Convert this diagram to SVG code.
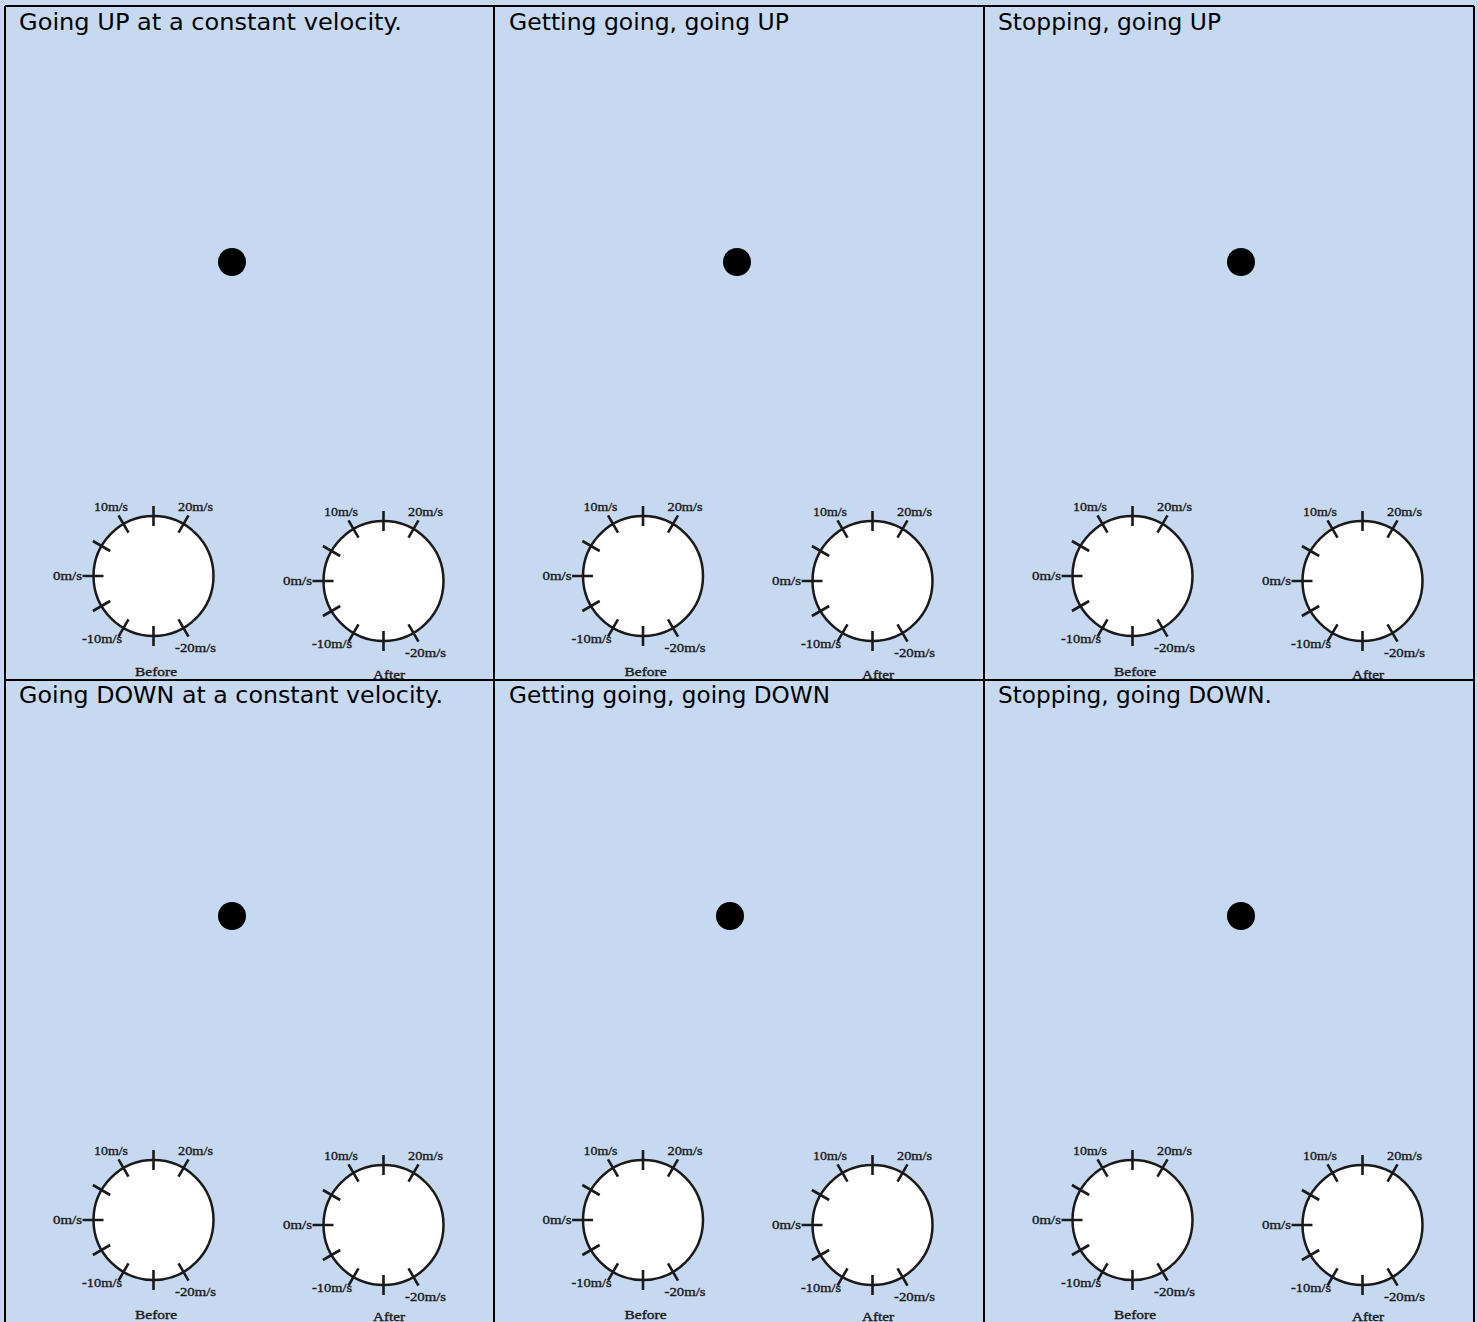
<svg xmlns="http://www.w3.org/2000/svg" xmlns:xlink="http://www.w3.org/1999/xlink" width="1478" height="1322" viewBox="0 0 1478 1322">
<style>
.bg{fill:#c6d9f1}
.title{font-family:"DejaVu Sans","Liberation Sans",sans-serif;font-size:23.5px;fill:#000}
.lbl{font-family:"Liberation Serif",serif;font-size:12px;fill:#1a1a1a;stroke:#1a1a1a;stroke-width:0.35}
.face{fill:#fff;stroke:#1a1a1a;stroke-width:2.5}
.tick{stroke:#1a1a1a;stroke-width:2.6;fill:none}
.dot{fill:#000}
.grid{stroke:#000;stroke-width:2;fill:none}
</style>
<defs>
<g id="dial">
<circle class="face" cx="0" cy="0" r="60"/>
<path class="tick" d="M25,-43.3L35,-60.6M0,-50L0,-70M-25,-43.3L-35,-60.6M-43.3,-25L-60.6,-35M-50,0L-71,0M-43.3,25L-60.6,35M-25,43.3L-35,60.6M0,50L0,70M25,43.3L35,60.6"/>
<text class="lbl" x="-59.5" y="-65" textLength="34" lengthAdjust="spacingAndGlyphs">10m/s</text>
<text class="lbl" x="24.5" y="-65" textLength="35" lengthAdjust="spacingAndGlyphs">20m/s</text>
<text class="lbl" x="-100.5" y="3.5" textLength="29" lengthAdjust="spacingAndGlyphs">0m/s</text>
<text class="lbl" x="-71.5" y="67" textLength="40" lengthAdjust="spacingAndGlyphs">-10m/s</text>
<text class="lbl" x="21.5" y="75.5" textLength="41" lengthAdjust="spacingAndGlyphs">-20m/s</text>
</g>
</defs>
<rect class="bg" x="0" y="0" width="1478" height="1322"/>

<g id="panel-r1c1">
<text class="title" x="19" y="30" textLength="383" lengthAdjust="spacingAndGlyphs">Going UP at a constant velocity.</text>
<circle class="dot" cx="232" cy="262" r="14"/>
<g id="r1c1-before"><use xlink:href="#dial" transform="translate(153.5,576)"/><text class="lbl" x="135" y="676" textLength="42" lengthAdjust="spacingAndGlyphs">Before</text></g>
<g id="r1c1-after"><use xlink:href="#dial" transform="translate(383.5,581)"/><text class="lbl" x="373" y="679" textLength="32" lengthAdjust="spacingAndGlyphs">After</text></g>
</g>
<g id="panel-r1c2">
<text class="title" x="509" y="30" textLength="280" lengthAdjust="spacingAndGlyphs">Getting going, going UP</text>
<circle class="dot" cx="737" cy="262" r="14"/>
<g id="r1c2-before"><use xlink:href="#dial" transform="translate(643,576)"/><text class="lbl" x="624.5" y="676" textLength="42" lengthAdjust="spacingAndGlyphs">Before</text></g>
<g id="r1c2-after"><use xlink:href="#dial" transform="translate(872.5,581)"/><text class="lbl" x="862" y="679" textLength="32" lengthAdjust="spacingAndGlyphs">After</text></g>
</g>
<g id="panel-r1c3">
<text class="title" x="998" y="30" textLength="223" lengthAdjust="spacingAndGlyphs">Stopping, going UP</text>
<circle class="dot" cx="1241" cy="262" r="14"/>
<g id="r1c3-before"><use xlink:href="#dial" transform="translate(1132.5,576)"/><text class="lbl" x="1114" y="676" textLength="42" lengthAdjust="spacingAndGlyphs">Before</text></g>
<g id="r1c3-after"><use xlink:href="#dial" transform="translate(1362.5,581)"/><text class="lbl" x="1352" y="679" textLength="32" lengthAdjust="spacingAndGlyphs">After</text></g>
</g>

<rect class="bg" x="0" y="680" width="1478" height="642"/>

<g id="panel-r2c1">
<text class="title" x="19" y="703" textLength="424" lengthAdjust="spacingAndGlyphs">Going DOWN at a constant velocity.</text>
<circle class="dot" cx="232" cy="916" r="14"/>
<g id="r2c1-before"><use xlink:href="#dial" transform="translate(153.5,1220)"/><text class="lbl" x="135" y="1319" textLength="42" lengthAdjust="spacingAndGlyphs">Before</text></g>
<g id="r2c1-after"><use xlink:href="#dial" transform="translate(383.5,1225)"/><text class="lbl" x="373" y="1321" textLength="32" lengthAdjust="spacingAndGlyphs">After</text></g>
</g>
<g id="panel-r2c2">
<text class="title" x="509" y="703" textLength="321" lengthAdjust="spacingAndGlyphs">Getting going, going DOWN</text>
<circle class="dot" cx="730" cy="916" r="14"/>
<g id="r2c2-before"><use xlink:href="#dial" transform="translate(643,1220)"/><text class="lbl" x="624.5" y="1319" textLength="42" lengthAdjust="spacingAndGlyphs">Before</text></g>
<g id="r2c2-after"><use xlink:href="#dial" transform="translate(872.5,1225)"/><text class="lbl" x="862" y="1321" textLength="32" lengthAdjust="spacingAndGlyphs">After</text></g>
</g>
<g id="panel-r2c3">
<text class="title" x="998" y="703" textLength="274" lengthAdjust="spacingAndGlyphs">Stopping, going DOWN.</text>
<circle class="dot" cx="1241" cy="916" r="14"/>
<g id="r2c3-before"><use xlink:href="#dial" transform="translate(1132.5,1220)"/><text class="lbl" x="1114" y="1319" textLength="42" lengthAdjust="spacingAndGlyphs">Before</text></g>
<g id="r2c3-after"><use xlink:href="#dial" transform="translate(1362.5,1225)"/><text class="lbl" x="1352" y="1321" textLength="32" lengthAdjust="spacingAndGlyphs">After</text></g>
</g>

<g id="grid">
<path class="grid" d="M5,6H1474M5,680H1474M5,6V1322M494,6V1322M984,6V1322M1474,6V1322"/>
</g>
</svg>
